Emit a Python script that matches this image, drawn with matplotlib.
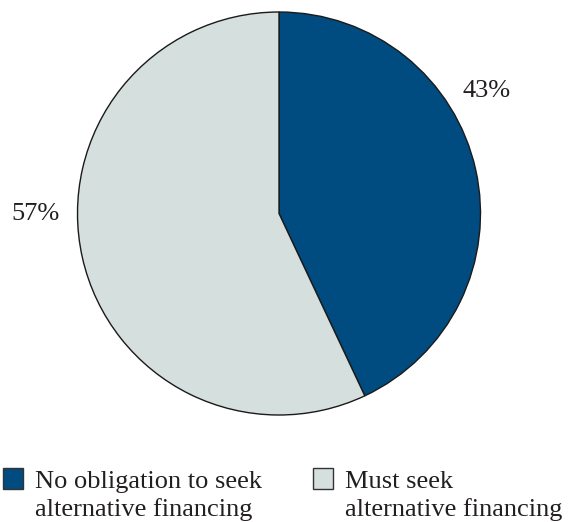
import matplotlib.pyplot as plt
from matplotlib.patches import Rectangle

# share of respondents by financing requirement
labels = ["No obligation to seek\nalternative financing",
          "Must seek\nalternative financing"]
shares = [43, 57]
colors = ["#004b80", "#d5dfdd"]

plt.rcParams['font.family'] = ['Liberation Serif', 'DejaVu Serif']
TXT = "#231f20"
FS = 19

W, H = 578, 522
fig = plt.figure(figsize=(W / 100, H / 100), dpi=100)

# square axes holding the pie, sized in pixels
cx, cy, r = 279, 213.5, 201.5
ax = fig.add_axes([(cx - r) / W, (H - cy - r) / H, 2 * r / W, 2 * r / H])

wedges, _ = ax.pie(shares, colors=colors, startangle=90, counterclock=False,
                   radius=1, wedgeprops=dict(edgecolor="#1a1a1a", linewidth=1.0))
ax.set_xlim(-1, 1)
ax.set_ylim(-1, 1)
ax.set_aspect('equal')
ax.axis('off')

# percentage labels outside the pie
ax.text(1.032, 0.608, f"{shares[0]}%", ha='center', va='center', fontsize=FS,
        color=TXT, clip_on=False)
ax.text(-1.206, 0.0, f"{shares[1]}%", ha='center', va='center', fontsize=FS,
        color=TXT, clip_on=False)

# legend drawn on a pixel-space overlay
lax = fig.add_axes([0, 0, 1, 1])
lax.set_xlim(0, W)
lax.set_ylim(H, 0)
lax.axis('off')
box_x = [3, 313]
for bx, lab, col in zip(box_x, labels, colors):
    lax.add_patch(Rectangle((bx, 468), 20, 21, facecolor=col,
                            edgecolor="#333333", linewidth=1.0))
    for i, line in enumerate(lab.split("\n")):
        lax.text(bx + 32, 488 + 28 * i, line, fontsize=FS, color=TXT,
                 ha='left', va='baseline')

fig.savefig("out.png", dpi=100)
